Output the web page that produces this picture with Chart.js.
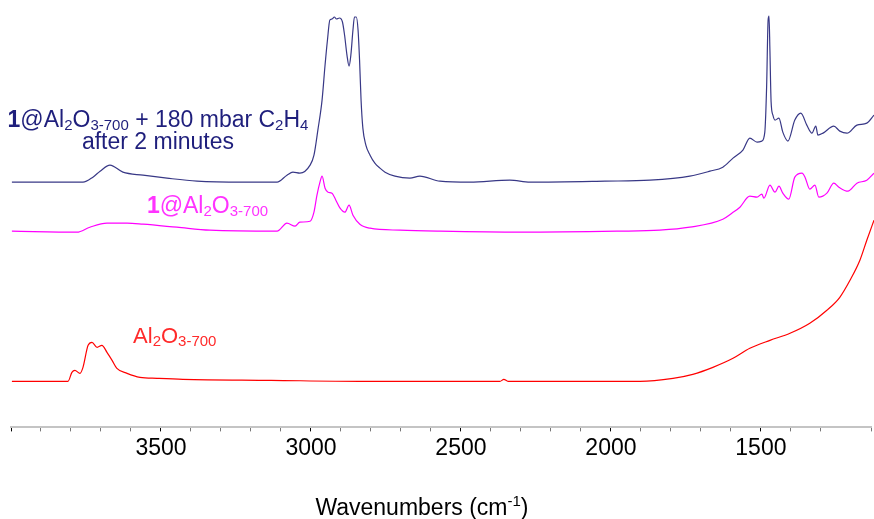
<!DOCTYPE html>
<html>
<head>
<meta charset="utf-8">
<script src="https://cdn.jsdelivr.net/npm/chart.js@4.4.0/dist/chart.umd.min.js"></script>
<style>
  body { margin: 0; background: #fff; }
  #wrap { width: 874px; height: 519px; }
</style>
</head>
<body>
<div id="wrap"><canvas id="irChart" width="874" height="519"></canvas></div>
<script>
// wavenumber range and tick labels
const wnMin = 1133;
const wnMax = 4000;
const tickLabels = [3500, 3000, 2500, 2000, 1500];

// 1@Al2O3-700 + 180 mbar C2H4 (navy)
const ethWn  = [3997, 3760, 3727, 3703, 3670, 3627, 3560, 3480, 3380, 3227, 3113, 3080, 3060, 3037, 3003, 2990, 2977, 2963, 2953, 2945, 2937, 2930, 2922, 2915, 2905, 2895, 2888, 2880, 2873, 2867, 2860, 2855, 2849, 2843, 2838, 2833, 2827, 2817, 2803, 2787, 2770, 2753, 2720, 2670, 2637, 2570, 2470, 2337, 2270, 2020, 1870, 1737, 1670, 1627, 1593, 1560, 1537, 1513, 1497, 1487, 1481, 1476, 1473, 1470, 1466, 1460, 1453, 1440, 1427, 1410, 1387, 1367, 1347, 1330, 1317, 1310, 1293, 1257, 1237, 1213, 1180, 1147, 1123];
const ethAbs = [2.45, 2.45, 2.50, 2.56, 2.62, 2.55, 2.52, 2.49, 2.46, 2.45, 2.45, 2.52, 2.55, 2.54, 2.62, 2.72, 2.97, 3.27, 3.62, 3.87, 4.07, 4.08, 4.10, 4.08, 4.09, 4.05, 3.92, 3.72, 3.61, 3.72, 3.97, 4.10, 4.10, 3.97, 3.67, 3.27, 2.99, 2.82, 2.72, 2.64, 2.59, 2.55, 2.51, 2.49, 2.51, 2.46, 2.45, 2.47, 2.45, 2.46, 2.47, 2.51, 2.56, 2.60, 2.69, 2.77, 2.89, 2.85, 2.86, 2.95, 3.40, 4.07, 4.11, 3.77, 3.25, 3.12, 3.07, 3.09, 2.95, 2.86, 3.07, 3.14, 3.02, 2.94, 3.01, 2.92, 2.94, 3.01, 2.96, 2.94, 3.02, 3.04, 3.12];

// 1@Al2O3-700 (magenta)
const graftWn  = [3997, 3780, 3737, 3680, 3613, 3560, 3447, 3337, 3113, 3080, 3053, 3037, 3003, 2990, 2980, 2970, 2963, 2953, 2943, 2930, 2917, 2903, 2887, 2873, 2860, 2837, 2803, 2703, 2570, 2303, 1980, 1837, 1737, 1627, 1597, 1570, 1537, 1513, 1497, 1490, 1470, 1453, 1440, 1427, 1407, 1387, 1363, 1353, 1337, 1320, 1307, 1280, 1257, 1240, 1210, 1180, 1147, 1123];
const graftAbs = [1.96, 1.95, 2.00, 2.04, 2.04, 2.03, 2.00, 1.97, 1.96, 2.04, 2.01, 2.05, 2.06, 2.15, 2.32, 2.45, 2.51, 2.39, 2.35, 2.34, 2.27, 2.19, 2.15, 2.22, 2.12, 2.03, 1.99, 1.97, 1.96, 1.95, 1.96, 1.97, 2.00, 2.08, 2.14, 2.20, 2.31, 2.30, 2.33, 2.29, 2.42, 2.35, 2.41, 2.34, 2.28, 2.50, 2.54, 2.50, 2.38, 2.42, 2.30, 2.34, 2.44, 2.40, 2.36, 2.44, 2.47, 2.54];

// Al2O3-700 (red)
const aluWn  = [3997, 3810, 3797, 3787, 3770, 3760, 3743, 3730, 3713, 3697, 3680, 3663, 3647, 3613, 3570, 3513, 3427, 3133, 2837, 2370, 2357, 2343, 1903, 1793, 1727, 1660, 1593, 1537, 1470, 1403, 1337, 1280, 1237, 1203, 1170, 1147, 1123];
const aluAbs = [0.46, 0.46, 0.55, 0.57, 0.54, 0.60, 0.82, 0.85, 0.80, 0.82, 0.75, 0.67, 0.59, 0.54, 0.50, 0.49, 0.48, 0.47, 0.46, 0.46, 0.48, 0.46, 0.46, 0.49, 0.53, 0.60, 0.69, 0.79, 0.87, 0.94, 1.04, 1.17, 1.30, 1.47, 1.67, 1.87, 2.07];

const FONT = '"Liberation Sans", Arial, sans-serif';

function pts(xs, ys) {
    return xs.map((x, i) => ({ x: x, y: ys[i] }));
}

// text pieces: t = text, b = bold, s = subscript, p = superscript
const labels = [
    { color: '#1f1f7c', wn: 3510, y: 3.00, align: 'center', size: 23,
      parts: [{ t: '1', b: true }, { t: '@Al' }, { t: '2', s: true }, { t: 'O' }, { t: '3-700', s: true },
              { t: ' + 180 mbar C' }, { t: '2', s: true }, { t: 'H' }, { t: '4', s: true }] },
    { color: '#1f1f7c', wn: 3510, y: 2.78, align: 'center', size: 23,
      parts: [{ t: 'after 2 minutes' }] },
    { color: '#ff33ff', wn: 3547, y: 2.14, align: 'left', size: 23,
      parts: [{ t: '1', b: true }, { t: '@Al' }, { t: '2', s: true }, { t: 'O' }, { t: '3-700', s: true }] },
    { color: '#ff2a2a', wn: 3593, y: 0.84, align: 'left', size: 22,
      parts: [{ t: 'Al' }, { t: '2', s: true }, { t: 'O' }, { t: '3-700', s: true }] }
];

function drawRich(ctx, item, x, y) {
    const small = Math.round(item.size * 0.66);
    const fontOf = p => (p.b ? 'bold ' : '') + ((p.s || p.p) ? small : item.size) + 'px ' + FONT;
    let total = 0;
    item.parts.forEach(p => { ctx.font = fontOf(p); total += ctx.measureText(p.t).width; });
    let cx = item.align === 'center' ? x - total / 2 : x;
    ctx.fillStyle = item.color;
    ctx.textBaseline = 'alphabetic';
    ctx.textAlign = 'left';
    item.parts.forEach(p => {
        ctx.font = fontOf(p);
        const dy = p.s ? 3 : (p.p ? -9 : 0);
        ctx.fillText(p.t, cx, y + dy);
        cx += ctx.measureText(p.t).width;
    });
}

const textPlugin = {
    id: 'spectraText',
    afterDraw(chart) {
        const ctx = chart.ctx;
        const xs = chart.scales.x, ys = chart.scales.y;
        ctx.save();
        labels.forEach(l => drawRich(ctx, l, xs.getPixelForValue(l.wn), ys.getPixelForValue(l.y)));
        // axis title with superscript
        drawRich(ctx, { color: '#000', align: 'center', size: 23,
            parts: [{ t: 'Wavenumbers (cm' }, { t: '-1', p: true }, { t: ')' }] },
            xs.getPixelForValue(2630), 515);
        ctx.restore();
    }
};

new Chart(document.getElementById('irChart'), {
    type: 'line',
    data: {
        datasets: [
            { data: pts(ethWn, ethAbs), borderColor: '#383886', borderWidth: 1.2, clip: false },
            { data: pts(graftWn, graftAbs), borderColor: '#ff00ff', borderWidth: 1.2, clip: false },
            { data: pts(aluWn, aluAbs), borderColor: '#ff0000', borderWidth: 1.2, clip: false }
        ]
    },
    options: {
        responsive: false,
        animation: false,
        layout: { padding: { left: 11, right: 0, top: 0, bottom: 54 } },
        elements: { point: { radius: 0 }, line: { cubicInterpolationMode: 'monotone', fill: false } },
        plugins: { legend: { display: false }, tooltip: { enabled: false } },
        scales: {
            x: {
                type: 'linear',
                reverse: true,
                min: wnMin,
                max: wnMax,
                border: { display: true, color: '#c4c4c4', width: 2 },
                grid: {
                    drawOnChartArea: false,
                    drawTicks: true,
                    tickLength: 4,
                    color: ctx => (ctx.tick && ctx.tick.value % 500 === 0) ? '#000' : '#777'
                },
                ticks: {
                    stepSize: 100,
                    autoSkip: false,
                    maxRotation: 0,
                    padding: 3,
                    color: '#000',
                    font: { family: FONT, size: 23 },
                    callback: v => tickLabels.includes(v) ? String(v) : ''
                }
            },
            y: { display: false, min: 0, max: 4.27 }
        }
    },
    plugins: [textPlugin]
});
</script>
</body>
</html>
